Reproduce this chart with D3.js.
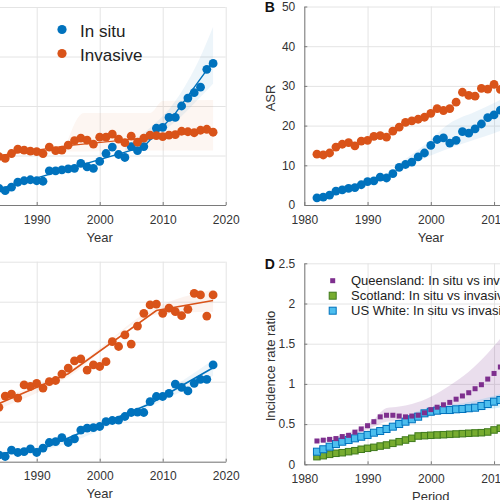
<!DOCTYPE html>
<html><head><meta charset="utf-8">
<script src="https://cdn.jsdelivr.net/npm/d3@7/dist/d3.min.js"></script>
<style>
body{margin:0;background:#fff}
svg{display:block}
text{font-family:"Liberation Sans",Arial,Helvetica,sans-serif}
</style>
</head><body>
<svg id="chart" width="500" height="500"></svg>
<script>
// ---------- DATA ----------
const xTicks = [1980, 1990, 2000, 2010, 2020];

// Panel A (left edge cropped)
const yearsA = d3.range(1984, 2019);
const aInSitu   = [3.4, 2.9, 3.6, 4.6, 4.9, 5.1, 4.9, 4.8, 6.9, 6.9, 7.1, 7.3, 7.4, 8.4, 7.7, 7.4, 8.8, 10.4, 11.7, 10.2, 9.6, 11.8, 11.0, 11.8, 14.0, 15.5, 15.7, 17.7, 17.7, 20.0, 21.6, 22.7, 23.8, 27.4, 28.6];
const aInvasive = [9.8, 9.4, 10.4, 11.3, 11.1, 10.9, 10.8, 10.4, 11.7, 11.0, 11.1, 12.1, 13.0, 13.5, 13.1, 12.3, 13.7, 13.7, 14.3, 13.3, 12.6, 13.9, 12.7, 13.5, 14.1, 14.0, 13.8, 14.1, 14.2, 14.9, 14.8, 14.6, 15.1, 15.3, 14.7];
const aFitInSituYears = [1984, 2007, 2012, 2018];
const aFitInSitu      = [3.2, 11.8, 18.5, 29.0];
const aFitInvYears    = [1984, 1995, 2018];
const aFitInv         = [10.0, 12.0, 14.9];
const aBandInSituYears = [2004, 2008, 2012, 2016, 2018];
const aBandInSituLo    = [10.5, 13.3, 16.8, 21.8, 24.5];
const aBandInSituHi    = [12.0, 15.6, 21.0, 30.0, 36.0];
const aBandInvYears = [1994.5, 1997.5, 2008, 2010, 2018];
const aBandInvLo    = [10.8, 10.8, 11.0, 11.0, 11.0];
const aBandInvHi    = [11.5, 18.6, 18.6, 21.0, 21.2];
const aYTicks = [0, 10, 20, 30, 40];

// Panel B (right edge cropped)
const yearsB = d3.range(1982, 2012);
const bInSitu   = [1.8, 2.0, 2.5, 3.5, 3.8, 4.2, 4.4, 5.1, 5.9, 6.1, 7.0, 6.8, 7.9, 9.5, 10.2, 10.8, 12.1, 13.1, 15.0, 16.5, 16.9, 15.6, 16.3, 18.5, 18.1, 19.2, 20.4, 22.0, 22.7, 23.9];
const bInvasive = [12.8, 12.6, 13.1, 14.6, 15.3, 15.7, 14.9, 16.1, 16.3, 17.3, 17.5, 17.1, 18.6, 19.6, 20.8, 21.2, 21.6, 22.1, 23.1, 24.3, 23.8, 24.3, 25.9, 28.4, 27.6, 27.4, 29.4, 29.2, 30.4, 29.1];
const bBandYears = [1995, 1999, 2003, 2007, 2010, 2012];
const bBandLo    = [8.5, 11.8, 14.3, 16.5, 18.1, 19.3];
const bBandHi    = [10.5, 15.1, 20.6, 23.5, 25.7, 27.3];
const bYTicks = [0, 10, 20, 30, 40, 50];

// Panel C (left edge cropped)
const yearsC = d3.range(1984, 2019);
const cInSitu   = [1.7, 1.3, 2.9, 2.3, 2.5, 3.2, 2.3, 3.4, 4.8, 5.0, 6.0, 4.8, 5.7, 7.9, 8.4, 8.5, 8.8, 10.0, 10.3, 10.4, 11.3, 12.3, 12.4, 12.3, 15.0, 16.3, 16.3, 17.1, 19.4, 18.6, 17.7, 19.6, 20.6, 20.6, 24.2];
const cInvasive = [13.6, 16.4, 16.9, 15.9, 19.2, 18.8, 19.6, 18.4, 20.0, 20.3, 21.9, 23.4, 25.2, 25.7, 22.9, 24.2, 23.8, 25.0, 30.0, 28.8, 31.7, 29.4, 33.9, 37.1, 39.2, 39.4, 37.1, 38.4, 37.5, 36.5, 38.1, 42.1, 41.7, 36.4, 41.7];
const cFitInSituYears = [1984, 1991, 2008, 2018];
const cFitInSitu      = [2.0, 3.3, 14.5, 23.5];
const cFitInvYears    = [1984, 1995, 2009, 2018];
const cFitInv         = [14.5, 22.0, 37.8, 40.3];
const cBandInSituLo = [1.3, 2.8, 13.8, 21.5];
const cBandInSituHi = [2.7, 3.8, 15.2, 25.5];
const cBandInvLo    = [13.2, 21.2, 36.8, 37.5];
const cBandInvHi    = [15.8, 22.8, 38.7, 43.0];
const cYTicks = [0, 10, 20, 30, 40, 50];

// Panel D (right edge cropped)
const yearsD = d3.range(1982, 2012);
const dQueensland = [0.29, 0.30, 0.31, 0.32, 0.345, 0.36, 0.40, 0.44, 0.48, 0.53, 0.59, 0.61, 0.61, 0.60, 0.59, 0.60, 0.61, 0.64, 0.68, 0.71, 0.74, 0.77, 0.81, 0.85, 0.89, 0.94, 0.99, 1.06, 1.13, 1.21];
const dScotland   = [0.095, 0.107, 0.124, 0.137, 0.144, 0.157, 0.169, 0.187, 0.199, 0.211, 0.227, 0.24, 0.261, 0.281, 0.302, 0.323, 0.352, 0.356, 0.361, 0.365, 0.368, 0.373, 0.377, 0.381, 0.386, 0.39, 0.393, 0.402, 0.427, 0.448];
const dUSWhite    = [0.157, 0.187, 0.219, 0.252, 0.281, 0.302, 0.323, 0.343, 0.365, 0.393, 0.414, 0.439, 0.468, 0.501, 0.53, 0.56, 0.592, 0.634, 0.654, 0.667, 0.675, 0.675, 0.684, 0.688, 0.697, 0.704, 0.725, 0.75, 0.779, 0.80];
const dBandQYears = [1982, 1986, 1989, 1991, 1993, 1995, 1997, 2000, 2003, 2006, 2009, 2012];
const dBandQLo    = [0.27, 0.32, 0.40, 0.47, 0.53, 0.54, 0.55, 0.60, 0.65, 0.71, 0.79, 0.88];
const dBandQHi    = [0.31, 0.37, 0.46, 0.56, 0.70, 0.72, 0.75, 0.84, 0.98, 1.15, 1.38, 1.66];
const dBandUYears = [1982, 1990, 2000, 2005, 2012];
const dBandULo    = [0.14, 0.34, 0.62, 0.64, 0.72];
const dBandUHi    = [0.17, 0.38, 0.71, 0.76, 0.90];
const dYTicks = [0, 0.5, 1, 1.5, 2, 2.5];
const dLegend = ["Queensland: In situ vs invasive", "Scotland: In situ vs invasive", "US White: In situ vs invasive"];

const legendA = ["In situ", "Invasive"];

// ---------- STYLE ----------
const BLUE = "#0072BD", ORANGE = "#D95319", PURPLE = "#7E2F8E", GREEN = "#77AC30", LBLUE = "#4DBEEE";
const GRID = "#e4e4e4", AXIS = "#7a7a7a", TXT = "#333";

const svg = d3.select("#chart");

function makePanel(o) {
  const x = d3.scaleLinear().domain([1980, 2020]).range([o.x0, o.x1]);
  const y = d3.scaleLinear().domain([0, o.ymax]).range([o.yb, o.yt]);
  const g = svg.append("g");
  // grid
  g.append("g").attr("transform", `translate(0,${o.yb})`)
    .call(d3.axisBottom(x).tickValues(xTicks).tickSize(-(o.yb - o.yt)).tickFormat(""))
    .call(s => { s.select(".domain").remove(); s.selectAll("line").attr("stroke", GRID); });
  g.append("g").attr("transform", `translate(${o.x0},0)`)
    .call(d3.axisLeft(y).tickValues(o.yTicks).tickSize(-(o.x1 - o.x0)).tickFormat(""))
    .call(s => { s.select(".domain").remove(); s.selectAll("line").attr("stroke", GRID); });
  // axes (labels only where they fall inside the visible picture)
  const xFmt = d => (x(d) < 0 ? "" : d3.format("d")(d));
  g.append("g").attr("transform", `translate(0,${o.yb})`)
    .call(d3.axisBottom(x).tickValues(xTicks).tickSizeInner(-3).tickSizeOuter(0).tickPadding(10).tickFormat(xFmt))
    .call(s => {
      s.select(".domain").attr("stroke", AXIS);
      s.selectAll("line").attr("stroke", AXIS);
      s.selectAll("text").attr("fill", TXT).attr("font-size", 12).attr("font-family", '"Liberation Sans",Arial,sans-serif');
    });
  const yFmt = o.x0 < 20 ? (() => "") : (d => d);
  g.append("g").attr("transform", `translate(${o.x0},0)`)
    .call(d3.axisLeft(y).tickValues(o.yTicks).tickSizeInner(-3).tickSizeOuter(0).tickPadding(9).tickFormat(yFmt))
    .call(s => {
      s.select(".domain").attr("stroke", AXIS);
      s.selectAll("line").attr("stroke", AXIS);
      s.selectAll("text").attr("fill", TXT).attr("font-size", 12).attr("font-family", '"Liberation Sans",Arial,sans-serif');
    });
  g.append("text").attr("x", x(2000)).attr("y", o.yb + 36.5).attr("text-anchor", "middle")
    .attr("font-size", 13).attr("fill", TXT).text(o.xlabel);
  if (o.ylabel) {
    g.append("text").attr("transform", `translate(${o.x0 - 29.5},${o.ylabelY}) rotate(-90)`)
      .attr("text-anchor", "middle").attr("font-size", 13).attr("fill", TXT).text(o.ylabel);
  }
  if (o.letter) {
    g.append("text").attr("x", o.x0 - 39.5).attr("y", o.yt + 5.5).attr("font-size", 14)
      .attr("font-weight", "bold").attr("fill", "#111").text(o.letter);
  }
  return {g, x, y};
}

function band(p, years, lo, hi, color, op) {
  const area = d3.area().x(d => p.x(d[0])).y0(d => p.y(d[1])).y1(d => p.y(d[2])).curve(d3.curveMonotoneX);
  p.g.append("path").datum(years.map((t, i) => [t, lo[i], hi[i]]))
    .attr("d", area).attr("fill", color).attr("fill-opacity", op);
}
function fit(p, years, vals, color, w) {
  const line = d3.line().x(d => p.x(d[0])).y(d => p.y(d[1]));
  p.g.append("path").datum(years.map((t, i) => [t, vals[i]]))
    .attr("d", line).attr("fill", "none").attr("stroke", color).attr("stroke-width", w || 1.6);
}
function dots(p, years, vals, color) {
  p.g.append("g").selectAll("circle").data(years.map((t, i) => [t, vals[i]])).join("circle")
    .attr("cx", d => p.x(d[0])).attr("cy", d => p.y(d[1])).attr("r", 4.4).attr("fill", color);
}
function squares(p, years, vals, size, fill, stroke) {
  p.g.append("g").selectAll("rect").data(years.map((t, i) => [t, vals[i]])).join("rect")
    .attr("x", d => p.x(d[0]) - size / 2).attr("y", d => p.y(d[1]) - size / 2)
    .attr("width", size).attr("height", size).attr("fill", fill)
    .attr("stroke", stroke || "none").attr("stroke-width", stroke ? 1 : 0);
}

// ---------- PANEL A ----------
const pA = makePanel({x0: -26.3, x1: 225.7, yb: 205, yt: 7, ymax: 40, yTicks: aYTicks, xlabel: "Year"});
band(pA, aBandInvYears, aBandInvLo, aBandInvHi, ORANGE, 0.055);
band(pA, aBandInSituYears, aBandInSituLo, aBandInSituHi, BLUE, 0.07);
fit(pA, aFitInvYears, aFitInv, ORANGE, 1.2);
fit(pA, aFitInSituYears, aFitInSitu, BLUE, 1.4);
dots(pA, yearsA, aInSitu, BLUE);
dots(pA, yearsA, aInvasive, ORANGE);
// legend A
[BLUE, ORANGE].forEach((c, i) => {
  pA.g.append("circle").attr("cx", 62).attr("cy", 29.5 + i * 24).attr("r", 4.6).attr("fill", c);
  pA.g.append("text").attr("x", 80).attr("y", 37.3 + i * 24).attr("font-size", 17).attr("fill", "#222").text(legendA[i]);
});

// ---------- PANEL B ----------
const pB = makePanel({x0: 304.3, x1: 557.3, yb: 205, yt: 6.5, ymax: 50, yTicks: bYTicks, xlabel: "Year", ylabel: "ASR", ylabelY: 98, letter: "B"});
band(pB, bBandYears, bBandLo, bBandHi, BLUE, 0.08);
dots(pB, yearsB, bInSitu, BLUE);
dots(pB, yearsB, bInvasive, ORANGE);

// ---------- PANEL C ----------
const pC = makePanel({x0: -26.3, x1: 225.7, yb: 461.7, yt: 261.7, ymax: 50, yTicks: cYTicks, xlabel: "Year"});
band(pC, cFitInvYears, cBandInvLo, cBandInvHi, ORANGE, 0.07);
band(pC, cFitInSituYears, cBandInSituLo, cBandInSituHi, BLUE, 0.07);
fit(pC, cFitInvYears, cFitInv, ORANGE);
fit(pC, cFitInSituYears, cFitInSitu, BLUE);
dots(pC, yearsC, cInSitu, BLUE);
dots(pC, yearsC, cInvasive, ORANGE);

// ---------- PANEL D ----------
const pD = makePanel({x0: 304.3, x1: 557.3, yb: 464.3, yt: 263.3, ymax: 2.5, yTicks: dYTicks, xlabel: "Period", ylabel: "Incidence rate ratio", ylabelY: 366, letter: "D"});
band(pD, dBandQYears, dBandQLo, dBandQHi, PURPLE, 0.16);
band(pD, dBandUYears, dBandULo, dBandUHi, LBLUE, 0.2);
squares(pD, yearsD, dScotland, 6.5, GREEN, "#3f7a1c");
squares(pD, yearsD, dUSWhite, 7, LBLUE, BLUE);
squares(pD, yearsD, dQueensland, 5, PURPLE);
// legend D
const legMarks = [[5, PURPLE, null], [7, GREEN, "#3f7a1c"], [7, LBLUE, BLUE]];
legMarks.forEach((m, i) => {
  const cy = 280.7 + i * 15;
  pD.g.append("rect").attr("x", 332.7 - m[0] / 2).attr("y", cy - m[0] / 2).attr("width", m[0]).attr("height", m[0])
    .attr("fill", m[1]).attr("stroke", m[2] || "none").attr("stroke-width", m[2] ? 1 : 0);
  pD.g.append("text").attr("x", 351).attr("y", cy + 4.6).attr("font-size", 13).attr("fill", "#222").text(dLegend[i]);
});
</script>
</body></html>
